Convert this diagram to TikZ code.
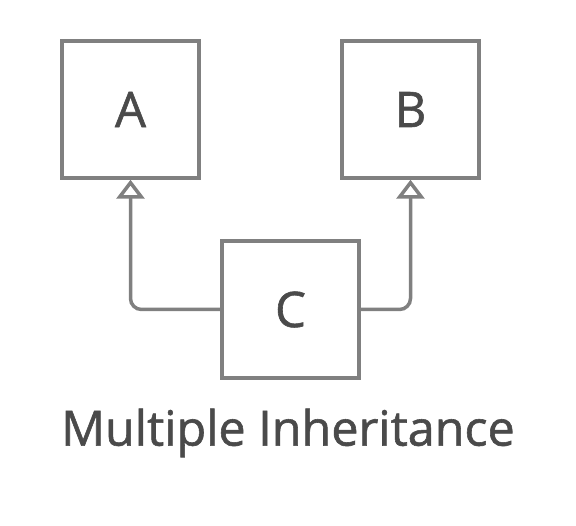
\documentclass[tikz,border=0pt]{standalone}
\usepackage{fontspec}
\setmainfont{Open Sans}
\newfontfamily\labelfont[FakeBold=1.2]{Open Sans}
\usetikzlibrary{arrows.meta}
\definecolor{linegray}{HTML}{808080}
\definecolor{textgray}{HTML}{4A4A4A}
\tikzset{
  classbox/.style={draw=linegray,line width=3.5pt,minimum size=137pt,inner sep=0pt,
    text=textgray,font=\labelfont\fontsize{49}{56}\selectfont},
  inherits/.style={draw=linegray,line width=3.5pt,
    -{Triangle[open,width=28pt,length=19pt]}}
}
\begin{document}
\begin{tikzpicture}[x=1pt,y=-1pt]
\useasboundingbox (0,0) rectangle (576,526);

\node[classbox] (A) at (130.5,109.5) {A};
\node[classbox] (B) at (410.5,109.5) {B};
\node[classbox] (C) at (290.5,309.5) {C};

% rounded corners only on the line, not on the tip
\draw[inherits] {[rounded corners=11pt] (C.west) -| (A.south)};
\draw[inherits] {[rounded corners=11pt] (C.east) -| (B.south)};

\node[text=textgray,font=\labelfont\fontsize{48.5}{56}\selectfont] (title) at (288,433) {Multiple Inheritance};
\end{tikzpicture}
\end{document}
